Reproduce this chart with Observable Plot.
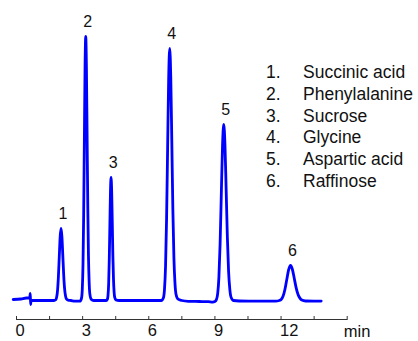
<!DOCTYPE html>
<html>
<head>
<meta charset="utf-8">
<script src="https://cdn.jsdelivr.net/npm/d3@7"></script>
<script src="https://cdn.jsdelivr.net/npm/@observablehq/plot@0.6"></script>
<style>
  html, body { margin: 0; padding: 0; background: #fff; }
  #chart svg { display: block; }
</style>
</head>
<body>
<div id="chart"></div>
<script>
// Retention time (min) of traced points along the chromatogram
const traceTime = [
  -0.15, 0.2, 0.45, 0.6, 0.625, 0.64, 0.66, 1.0, 1.5,
  1.70, 1.78, 1.82, 1.86, 1.90, 1.94, 1.98, 2.02, 2.06, 2.10, 2.14, 2.18, 2.22, 2.26, 2.34, 2.47,
  2.65, 2.89, 2.954, 2.985, 3.016, 3.047, 3.078, 3.109, 3.14, 3.171, 3.202, 3.233, 3.264, 3.295, 3.326, 3.388, 3.5,
  3.8, 4.07, 4.125, 4.152, 4.18, 4.207, 4.235, 4.262, 4.29, 4.317, 4.345, 4.372, 4.40, 4.427, 4.455, 4.51, 4.65,
  5.5, 6.57, 6.665, 6.7125, 6.76, 6.8075, 6.855, 6.9025, 6.95, 6.9975, 7.045, 7.0925, 7.14, 7.1875, 7.235, 7.33, 7.5,
  7.8, 8.3, 8.7, 8.9, 9.0, 9.07, 9.125, 9.18, 9.235, 9.29, 9.345, 9.40, 9.455, 9.51, 9.565, 9.62, 9.675, 9.73, 9.84, 10.1,
  11.0, 11.75, 11.92, 12.005, 12.09, 12.175, 12.26, 12.345, 12.43, 12.515, 12.60, 12.685, 12.77, 12.855, 12.94, 13.11, 13.82
];
// Detector signal (arbitrary units) at those times
const traceSignal = [
  1, 1.5, 2.5, 2.5, 7, -4, 0, 0, 0,
  0, 0.8, 3.2, 9.7, 23.4, 43.7, 63.5, 72, 64, 45.4, 25.9, 12.2, 5.0, 1.8, 0.4, 0,
  -0.7, -0.5, 2.9, 11.6, 35.6, 85.8, 160.2, 232.8, 264, 234, 166.3, 95, 44.9, 18.5, 6.6, 1.3, 0,
  0, 0, 1.4, 5.4, 16.6, 40, 74.7, 108.5, 123, 109, 77.5, 44.3, 20.9, 8.6, 3.1, 0.6, 0,
  0, 0, 2.8, 11.1, 34, 81.9, 153, 222.3, 252, 223.5, 158.8, 90.7, 42.8, 17.6, 6.3, 1.3, 0,
  -0.8, -1, -1.2, -1.6, -1, 1, 6.8, 22.9, 56.5, 106.4, 155, 176, 156, 110.5, 63, 29.1, 11.4, 3.4, 0, -0.5,
  -0.7, -0.6, 0, 1, 4.2, 11, 21.1, 30.8, 35, 31, 22, 12.6, 5.9, 2.4, 0.5, -0.5, -0.6
];

// Peaks
const peakLabels = ["1", "2", "3", "4", "5", "6"];
const peakTimes = [2.02, 3.14, 4.29, 6.95, 9.40, 12.43];
const peakHeights = [72, 264, 123, 252, 176, 35];
const compoundNames = ["Succinic acid", "Phenylalanine", "Sucrose", "Glycine", "Aspartic acid", "Raffinose"];

// Axis ticks
const majorTicks = [0, 3, 6, 9, 12];
const minorTicks = [0, 1.5, 3, 4.5, 6, 7.5, 9, 10.5, 12, 13.5, 15];
const xUnit = "min";

const trace = traceTime.map((t, i) => ({t, s: traceSignal[i]}));
const peaks = peakLabels.map((label, i) => ({label, t: peakTimes[i], h: peakHeights[i]}));

const FONT = "'Liberation Sans', Arial, Helvetica, sans-serif";
const INK = "#111";

const chart = Plot.plot({
  width: 418,
  height: 341,
  marginLeft: 16,
  marginRight: 71.3,
  marginTop: 20,
  marginBottom: 22,
  style: {fontFamily: FONT, background: "#fff", color: INK},
  x: {domain: [0, 15], label: null},
  y: {domain: [-19, 280], axis: null, label: null},
  marks: [
    Plot.frame({anchor: "bottom", stroke: "#333", strokeWidth: 1}),
    Plot.axisX(minorTicks, {tickSize: -3, text: null, stroke: "#333", label: null}),
    Plot.axisX(majorTicks, {tickSize: 0, tickPadding: 5, fontSize: 16.5, textAnchor: "start", dx: -1, fill: INK, label: null, tickFormat: d => String(d)}),
    Plot.text([xUnit], {frameAnchor: "bottom-right", textAnchor: "start", lineAnchor: "middle", dx: -3.4, dy: 12, fontSize: 16.5, fill: INK}),
    Plot.line(trace, {x: "t", y: "s", stroke: "#0000ff", strokeWidth: 2.8, curve: "monotone-x", strokeLinejoin: "round"}),
    Plot.text(peaks, {x: "t", y: "h", text: "label", dx: 2, dy: -15, fontSize: 16, fill: INK}),
    Plot.text([peakLabels.map(l => l + ".").join("\n")], {frameAnchor: "top-left", textAnchor: "start", lineAnchor: "top", dx: 249.4, dy: 42.6, fontSize: 17.5, lineHeight: 1.238, fill: INK}),
    Plot.text([compoundNames.join("\n")], {frameAnchor: "top-left", textAnchor: "start", lineAnchor: "top", dx: 286.5, dy: 42.6, fontSize: 17.5, lineHeight: 1.238, fill: INK})
  ]
});
document.getElementById("chart").appendChild(chart);
</script>
</body>
</html>
